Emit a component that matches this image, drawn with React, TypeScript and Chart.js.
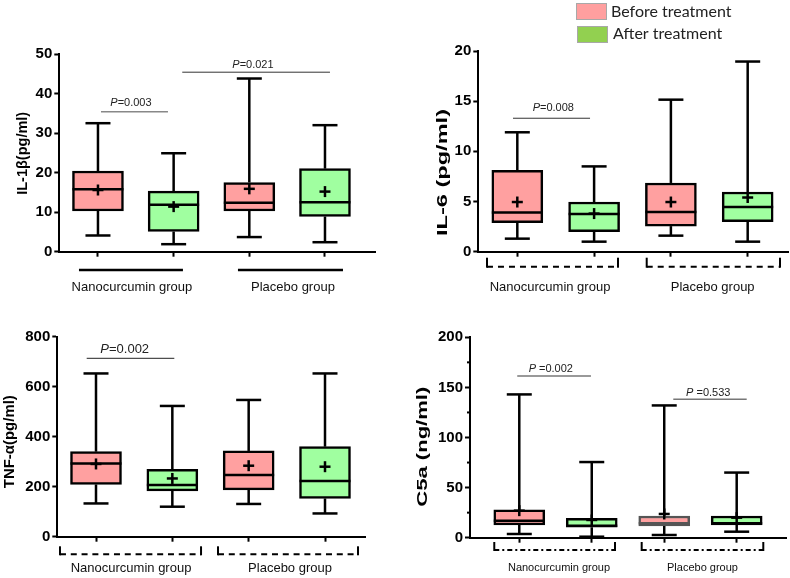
import React, { useEffect, useRef } from "react";
import { Chart, registerables } from "chart.js";

Chart.register(...registerables);

// ---------- data ----------
const boxLabels = ["Nanocurcumin – before", "Nanocurcumin – after", "Placebo – before", "Placebo – after"];
const boxPositions = [1, 2, 3, 4];
const groupNames = ["Nanocurcumin group", "Placebo group"];
const legendLabels = ["Before treatment", "After treatment"];

// IL-1β (pg/ml)
const il1bMin = [4.1, 1.9, 3.7, 2.4];
const il1bQ1 = [10.3, 5.1, 10.3, 8.9];
const il1bMedian = [15.8, 11.9, 12.4, 12.5];
const il1bQ3 = [20.4, 15.3, 17.5, 21.0];
const il1bMax = [32.5, 24.9, 43.8, 32.0];
const il1bMean = [15.6, 11.4, 15.9, 15.2];
const il1bTicks = [0, 10, 20, 30, 40, 50];
const il1bP = ["0.003", "0.021"];

// IL-6 (pg/ml)
const il6Min = [1.3, 1.0, 1.6, 1.0];
const il6Q1 = [2.9, 2.0, 2.55, 3.0];
const il6Median = [3.9, 3.75, 3.95, 4.45];
const il6Q3 = [8.1, 4.95, 6.85, 5.95];
const il6Max = [11.9, 8.5, 15.15, 18.95];
const il6Mean = [4.95, 3.8, 4.95, 5.4];
const il6Ticks = [0, 5, 10, 15, 20];
const il6P = ["0.008"];

// TNF-α (pg/ml)
const tnfMin = [133, 120, 131, 93];
const tnfQ1 = [209, 183, 187, 153];
const tnfMedian = [293, 207, 247, 223];
const tnfQ3 = [340, 269, 343, 360];
const tnfMax = [653, 523, 547, 653];
const tnfMean = [291, 233, 284, 280];
const tnfTicks = [0, 200, 400, 600, 800];
const tnfP = ["0.002"];

// C5a (ng/ml)
const c5aMin = [3.7, 1.0, 2.7, 6.0];
const c5aQ1 = [12.7, 10.4, 11.7, 12.7];
const c5aMedian = [17.0, 12.0, 14.4, 14.4];
const c5aQ3 = [27.7, 19.4, 21.7, 21.7];
const c5aMax = [143, 75.5, 132, 65];
const c5aMean = [27.0, 17.7, 23.7, 20.0];
const c5aTicks = [0, 50, 100, 150, 200];
const c5aMinorTicks = [25, 75, 125, 175];
const c5aP = ["0.002", "0.533"];

// ---------- styles ----------
const W = 790;
const H = 578;
const PINK = "#FFA0A0";
const GREEN = "#A0FFA0";
const boxFills = [PINK, GREEN, PINK, GREEN];
const SANS = '"Liberation Sans", Arial, sans-serif';

function line(ctx: CanvasRenderingContext2D, x1: number, y1: number, x2: number, y2: number) {
  ctx.beginPath();
  ctx.moveTo(x1, y1);
  ctx.lineTo(x2, y2);
  ctx.stroke();
}

const boxExtras = {
  id: "boxExtras",
  afterDatasetsDraw(chart: any, _args: any, o: any) {
    const { ctx } = chart;
    const xs = chart.scales.x;
    const ys = chart.scales.y;
    ctx.save();
    ctx.lineCap = "butt";
    const cap = 25;
    const bw = 51;
    boxPositions.forEach((p, i) => {
      const cx = xs.getPixelForValue(p);
      const yMin = ys.getPixelForValue(o.min[i]);
      const yQ1 = ys.getPixelForValue(o.q1[i]);
      const yMed = ys.getPixelForValue(o.median[i]);
      const yQ3 = ys.getPixelForValue(o.q3[i]);
      const yMax = ys.getPixelForValue(o.max[i]);
      const yMean = ys.getPixelForValue(o.mean[i]);
      ctx.strokeStyle = "#000";
      ctx.lineWidth = 2.5;
      line(ctx, cx, yQ1, cx, yMin);
      line(ctx, cx, yQ3, cx, yMax);
      line(ctx, cx - cap / 2, yMin, cx + cap / 2, yMin);
      line(ctx, cx - cap / 2, yMax, cx + cap / 2, yMax);
      ctx.strokeStyle = o.stroke[i];
      line(ctx, cx - bw / 2, yMed, cx + bw / 2, yMed);
      ctx.strokeStyle = "#000";
      line(ctx, cx - 5.5, yMean, cx + 5.5, yMean);
      line(ctx, cx, yMean - 5.5, cx, yMean + 5.5);
    });
    ctx.restore();
  },
  afterDraw(chart: any, _args: any, o: any) {
    const { ctx, chartArea } = chart;
    const xs = chart.scales.x;
    const ys = chart.scales.y;
    ctx.save();
    // minor ticks
    if (o.minor) {
      ctx.strokeStyle = "#000";
      ctx.lineWidth = 2;
      o.minor.forEach((v: number) => {
        const y = ys.getPixelForValue(v);
        line(ctx, chartArea.left - 3, y, chartArea.left, y);
      });
    }
    // y title, stretched to length
    ctx.font = `bold 14px ${SANS}`;
    const tw = ctx.measureText(o.title).width;
    ctx.save();
    ctx.translate(o.titleX, o.titleY);
    ctx.rotate(-Math.PI / 2);
    ctx.scale(o.titleLen / tw, 1);
    ctx.fillStyle = "#000";
    ctx.textAlign = "center";
    ctx.textBaseline = "middle";
    ctx.fillText(o.title, 0, 0);
    ctx.restore();
    // brackets
    const by = chartArea.bottom + o.bracketDy;
    ctx.strokeStyle = "#000";
    ctx.lineWidth = o.bracketWidth;
    o.brackets.forEach((b: number[]) => {
      const x1 = xs.getPixelForValue(b[0]);
      const x2 = xs.getPixelForValue(b[1]);
      ctx.setLineDash(o.dash);
      line(ctx, x1, by, x2, by);
      ctx.setLineDash([]);
      if (o.up > 0) {
        line(ctx, x1, by + 1, x1, by - o.up);
        line(ctx, x2, by + 1, x2, by - o.up);
      }
    });
    // group labels
    ctx.fillStyle = "#111";
    ctx.font = `${o.labelSize}px ${SANS}`;
    ctx.textAlign = "center";
    ctx.textBaseline = "alphabetic";
    groupNames.forEach((g, i) => {
      ctx.fillText(g, xs.getPixelForValue(o.labelX[i]), chartArea.bottom + o.labelDy);
    });
    // p-values
    o.pvals.forEach((p: any, i: number) => {
      const y = ys.getPixelForValue(p.y);
      ctx.strokeStyle = p.color;
      ctx.lineWidth = p.lw;
      line(ctx, xs.getPixelForValue(p.x1), y, xs.getPixelForValue(p.x2), y);
      const rest = p.sep + "=" + o.pText[i];
      ctx.font = `italic ${p.size}px ${SANS}`;
      const w1 = ctx.measureText("P").width;
      ctx.font = `${p.size}px ${SANS}`;
      const w2 = ctx.measureText(rest).width;
      const x0 = xs.getPixelForValue(p.xt) - (w1 + w2) / 2;
      ctx.fillStyle = "#222";
      ctx.textAlign = "left";
      ctx.font = `italic ${p.size}px ${SANS}`;
      ctx.fillText("P", x0, y - p.gap);
      ctx.font = `${p.size}px ${SANS}`;
      ctx.fillText(rest, x0 + w1, y - p.gap);
    });
    // legend
    if (o.legend) {
      o.legend.forEach((l: any, i: number) => {
        ctx.fillStyle = l.fill;
        ctx.fillRect(l.x, l.y, l.w, l.h);
        ctx.strokeStyle = "#A8A8A8";
        ctx.lineWidth = 1;
        ctx.strokeRect(l.x + 0.5, l.y + 0.5, l.w - 1, l.h - 1);
        ctx.fillStyle = "#222";
        ctx.font = '16px Lato, "Open Sans", sans-serif';
        ctx.textAlign = "left";
        ctx.textBaseline = "alphabetic";
        ctx.fillText(legendLabels[i], l.tx, l.ty);
      });
    }
    ctx.restore();
  },
};

function makeConfig(p: any) {
  const yW = 40;
  const xH = 8;
  return {
    type: "bar",
    data: {
      labels: boxLabels,
      datasets: [
        {
          data: boxPositions.map((x, i) => ({ x, y: [p.q1[i], p.q3[i]] })),
          backgroundColor: boxFills,
          borderColor: p.stroke,
          borderWidth: 2.5,
          borderSkipped: false,
          barThickness: 51,
        },
      ],
    },
    options: {
      animation: false,
      responsive: false,
      devicePixelRatio: 1,
      events: [],
      layout: {
        padding: { left: p.L - yW, top: p.T, right: W - p.R, bottom: H - p.B - xH },
      },
      plugins: {
        legend: { display: false },
        tooltip: { enabled: false },
        boxExtras: {
          min: p.min, q1: p.q1, median: p.median, q3: p.q3, max: p.max, mean: p.mean,
          stroke: p.stroke, minor: p.minor, title: p.title, titleX: p.titleX, titleY: p.titleY,
          titleLen: p.titleLen, brackets: p.brackets, bracketDy: p.bracketDy, bracketWidth: p.bracketWidth,
          dash: p.dash, up: p.up, labelX: p.labelX, labelDy: p.labelDy, labelSize: p.labelSize,
          pvals: p.pvals, pText: p.pText, legend: p.legend,
        },
      },
      scales: {
        x: {
          type: "linear",
          min: p.xMin,
          max: p.xMax,
          offset: false,
          afterBuildTicks: (s: any) => {
            s.ticks = boxPositions.map((v) => ({ value: v }));
          },
          afterFit: (s: any) => {
            s.height = xH;
          },
          ticks: { display: false },
          grid: { offset: false, drawOnChartArea: false, drawTicks: true, tickLength: 5, tickWidth: 2, tickColor: "#000" },
          border: { display: true, color: "#000", width: 2 },
        },
        y: {
          type: "linear",
          min: p.yTicks[0],
          max: p.yTicks[p.yTicks.length - 1],
          afterBuildTicks: (s: any) => {
            s.ticks = p.yTicks.map((v: number) => ({ value: v }));
          },
          afterFit: (s: any) => {
            s.width = yW;
          },
          ticks: { font: { family: SANS, size: 15, weight: "bold" }, color: "#000", padding: 2, autoSkip: false },
          grid: { drawOnChartArea: false, drawTicks: true, tickLength: 5, tickWidth: 2, tickColor: "#000" },
          border: { display: true, color: "#000", width: 2 },
        },
      },
    },
    plugins: [boxExtras],
  };
}

const panels = [
  {
    L: 59.3, R: 375, T: 54, B: 251.7, xMin: 0.489, xMax: 4.661,
    min: il1bMin, q1: il1bQ1, median: il1bMedian, q3: il1bQ3, max: il1bMax, mean: il1bMean,
    yTicks: il1bTicks, stroke: ["#000", "#000", "#000", "#000"],
    title: "IL-1β(pg/ml)", titleX: 23, titleY: 153.3, titleLen: 83,
    brackets: [[0.749, 2.123], [2.85, 4.238]], bracketDy: 18.3, bracketWidth: 2.5, dash: [], up: 0,
    labelX: [1.449, 3.577], labelDy: 39, labelSize: 13,
    pText: il1bP,
    pvals: [
      { x1: 1.04, x2: 1.925, xt: 1.436, y: 35.4, sep: "", color: "#888", lw: 1.5, size: 11, gap: 5.7 },
      { x1: 2.114, x2: 4.066, xt: 3.048, y: 45.4, sep: "", color: "#333", lw: 1, size: 11, gap: 4 },
    ],
  },
  {
    L: 478.3, R: 788, T: 51, B: 251.7, xMin: 0.492, xMax: 4.525,
    min: il6Min, q1: il6Q1, median: il6Median, q3: il6Q3, max: il6Max, mean: il6Mean,
    yTicks: il6Ticks, stroke: ["#000", "#000", "#000", "#000"],
    title: "IL-6 (pg/ml)", titleX: 443.3, titleY: 172.5, titleLen: 127,
    brackets: [[0.605, 2.311], [2.685, 4.421]], bracketDy: 15, bracketWidth: 2, dash: [6, 5], up: 9,
    labelX: [1.426, 3.544], labelDy: 39, labelSize: 13,
    pText: il6P,
    pvals: [{ x1: 0.944, x2: 1.947, xt: 1.469, y: 13.3, sep: "", color: "#333", lw: 1, size: 11, gap: 7 }],
    legend: [
      { fill: "#FF9F9F", x: 576, y: 3, w: 31, h: 17, tx: 611, ty: 17.3 },
      { fill: "#92D050", x: 577, y: 26, w: 31, h: 17, tx: 613, ty: 39.3 },
    ],
  },
  {
    L: 57.3, R: 365, T: 336.7, B: 536.7, xMin: 0.493, xMax: 4.524,
    min: tnfMin, q1: tnfQ1, median: tnfMedian, q3: tnfQ3, max: tnfMax, mean: tnfMean,
    yTicks: tnfTicks, stroke: ["#000", "#000", "#000", "#000"],
    title: "TNF-α(pg/ml)", titleX: 10.3, titleY: 441.7, titleLen: 93,
    brackets: [[0.528, 2.376], [2.598, 4.432]], bracketDy: 17.6, bracketWidth: 2, dash: [6, 4.8], up: 8,
    labelX: [1.459, 3.542], labelDy: 35, labelSize: 13,
    pText: tnfP,
    pvals: [{ x1: 0.878, x2: 2.026, xt: 1.376, y: 713.6, sep: "", color: "#222", lw: 1, size: 13, gap: 5 }],
  },
  {
    L: 470, R: 786.7, T: 337.3, B: 537.7, xMin: 0.32, xMax: 4.69,
    min: c5aMin, q1: c5aQ1, median: c5aMedian, q3: c5aQ3, max: c5aMax, mean: c5aMean,
    yTicks: c5aTicks, minor: c5aMinorTicks, stroke: ["#000", "#000", "#555", "#000"],
    title: "C5a (ng/ml)", titleX: 423.3, titleY: 446.7, titleLen: 120,
    brackets: [[0.655, 2.321], [2.689, 4.367]], bracketDy: 12.3, bracketWidth: 2, dash: [5, 3, 2, 3], up: 8,
    labelX: [1.548, 3.528], labelDy: 33.3, labelSize: 11,
    pText: c5aP,
    pvals: [
      { x1: 0.972, x2: 1.989, xt: 1.435, y: 161.4, sep: " ", color: "#777", lw: 1.5, size: 11, gap: 4.3 },
      { x1: 3.125, x2: 4.138, xt: 3.608, y: 138.1, sep: " ", color: "#777", lw: 1.5, size: 11, gap: 3 },
    ],
  },
];

export default function App() {
  const refs = [useRef<HTMLCanvasElement>(null), useRef<HTMLCanvasElement>(null), useRef<HTMLCanvasElement>(null), useRef<HTMLCanvasElement>(null)];
  useEffect(() => {
    const charts = panels.map((p, i) => new Chart(refs[i].current as HTMLCanvasElement, makeConfig(p) as any));
    return () => charts.forEach((c) => c.destroy());
  }, []);
  return (
    <div style={{ position: "absolute", left: 0, top: 0, width: W, height: H, background: "#fff", overflow: "hidden" }}>
      {refs.map((r, i) => (
        <canvas key={i} ref={r} width={W} height={H} style={{ position: "absolute", left: 0, top: 0, width: W, height: H }} />
      ))}
    </div>
  );
}
